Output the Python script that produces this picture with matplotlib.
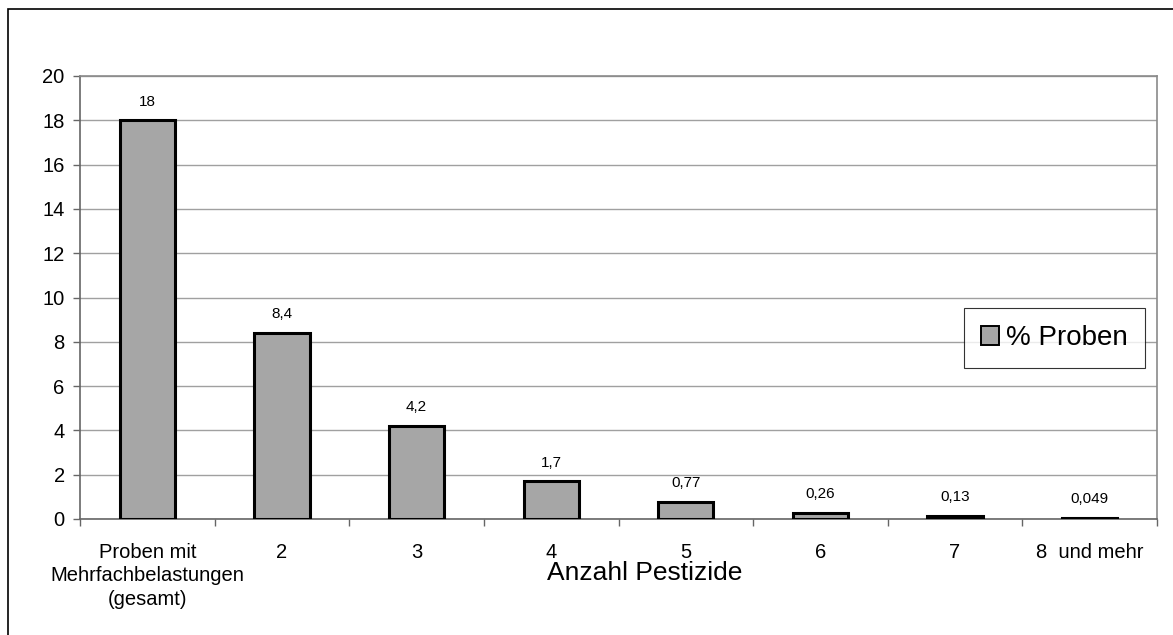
import matplotlib
matplotlib.use("Agg")
import matplotlib.pyplot as plt
import numpy as np
from matplotlib.patches import Rectangle

plt.rcParams['font.family'] = ['Liberation Sans', 'DejaVu Sans']

categories = ["Proben mit\nMehrfachbelastungen\n(gesamt)", "2", "3", "4", "5", "6", "7", "8  und mehr"]
proben = [18, 8.4, 4.2, 1.7, 0.77, 0.26, 0.13, 0.049]
y_ticks = [0, 2, 4, 6, 8, 10, 12, 14, 16, 18, 20]

W, H = 1173, 635
fig = plt.figure(figsize=(W / 100, H / 100), dpi=100)
ax = fig.add_axes([80 / W, 1 - 519 / H, (1157 - 80) / W, (519 - 76) / H])

# outer chart frame, runs off the right and bottom of the picture
fig.patches.append(Rectangle((7.5 / W, -0.2), 1.2, 1.2 - 9 / H, transform=fig.transFigure,
                             fill=False, edgecolor='black', linewidth=1.2))

x = np.arange(len(categories))
bars = ax.bar(x, proben, width=0.41, color='#a6a6a6', edgecolor='black', linewidth=2.2,
              label='% Proben', zorder=3)

for xi, v in zip(x, proben):
    ax.annotate(f"{v:g}".replace('.', ','), (xi, v), xytext=(0, 13.5), textcoords='offset points',
                ha='center', va='center', fontsize=11)

ax.set_xlim(-0.5, len(categories) - 0.5)
ax.set_ylim(0, 20)
ax.set_yticks(y_ticks)
ax.yaxis.grid(True, color='#a0a0a0', linewidth=1.0, zorder=0)
ax.set_axisbelow(True)

ax.set_xticks(x)
ax.set_xticklabels(categories, fontsize=14.5, linespacing=1.3, va='top')
ax.set_xticks(np.arange(len(categories) + 1) - 0.5, minor=True)
ax.tick_params(axis='x', which='major', length=0, pad=17)
ax.tick_params(axis='x', which='minor', length=5, width=1, color='#666666', direction='out')
ax.tick_params(axis='y', length=5, width=1, color='#666666', labelsize=14.5, pad=6)

for side in ['left', 'bottom']:
    ax.spines[side].set_color('#666666')
    ax.spines[side].set_linewidth(1.2)
for side in ['top', 'right']:
    ax.spines[side].set_color('#8a8a8a')
    ax.spines[side].set_linewidth(1.2)

fig.text(645 / W, 1 - 573 / H, "Anzahl Pestizide", ha='center', va='center', fontsize=19)

leg = ax.legend(loc='center', bbox_to_anchor=(1054.5 / W, 1 - 338 / H), bbox_transform=fig.transFigure,
                fontsize=20, frameon=True, fancybox=False, shadow=False, borderpad=0.6,
                handlelength=0.65, handleheight=0.65, handletextpad=0.25, borderaxespad=0)
leg.get_frame().set_edgecolor('black')
leg.get_frame().set_linewidth(0.8)
for h in leg.legend_handles:
    h.set_linewidth(1.4)

fig.savefig("out.png", dpi=100)
